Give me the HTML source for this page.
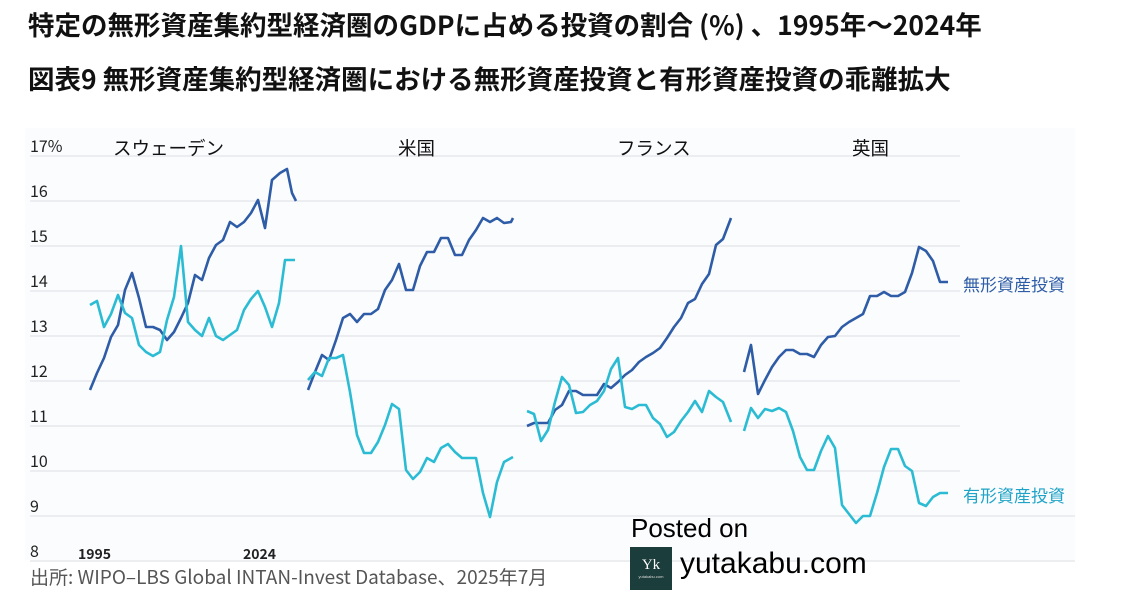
<!DOCTYPE html>
<html><head><meta charset="utf-8"><style>
body{margin:0;width:1127px;height:608px;background:#fff;overflow:hidden;position:relative;font-family:"Liberation Sans","Noto Sans CJK JP",sans-serif}
.t{position:absolute;white-space:nowrap;line-height:1.2}
.h{font-family:"Noto Sans CJK JP",sans-serif;font-weight:bold;color:#111;font-size:26.5px}
</style></head><body>
<div class="t h" style="left:28px;top:8px;">特定の無形資産集約型経済圏のGDPに占める投資の割合 (%) 、1995年～2024年</div>
<div class="t h" style="left:28px;top:62px;">図表9 無形資産集約型経済圏における無形資産投資と有形資産投資の乖離拡大</div>
<svg width="1127" height="608" style="position:absolute;left:0;top:0">
<rect x="25" y="128" width="1050" height="432" fill="#fbfcfe"/>
<g stroke="#e2e4e8" stroke-width="1.3">
<line x1="30" x2="960" y1="156" y2="156"/><line x1="30" x2="960" y1="201" y2="201"/><line x1="30" x2="960" y1="246" y2="246"/><line x1="30" x2="960" y1="291" y2="291"/><line x1="30" x2="960" y1="336" y2="336"/><line x1="30" x2="960" y1="381" y2="381"/><line x1="30" x2="960" y1="426" y2="426"/><line x1="30" x2="960" y1="471" y2="471"/><line x1="30" x2="1075" y1="516" y2="516"/><line x1="30" x2="1075" y1="561" y2="561"/>
</g>
<g font-size="16" fill="#222" font-family="Noto Sans CJK JP, sans-serif">
<text x="30" y="152">17%</text><text x="30" y="197">16</text><text x="30" y="242">15</text><text x="30" y="287">14</text><text x="30" y="332">13</text><text x="30" y="377">12</text><text x="30" y="422">11</text><text x="30" y="467">10</text><text x="30" y="512">9</text><text x="30" y="557">8</text>
<text x="78" y="559" font-size="14" font-weight="bold">1995</text><text x="243" y="559" font-size="14" font-weight="bold">2024</text>
</g>
<g font-size="18.5" fill="#111" font-family="Noto Sans CJK JP, sans-serif">
<text x="113" y="155">スウェーデン</text><text x="398" y="155">米国</text><text x="617" y="155">フランス</text><text x="852" y="155">英国</text>
</g>
<g fill="none" stroke-width="2.6" stroke-linejoin="round">
<polyline stroke="#2e5ca6" points="90,390 97,373 104,358 111,337 118,325 125,290 132,273 139,298 146,327 153,327 160,330 167,340 174,332 181,318 188,303 195,275 202,280 209,258 216,245 223,240 230,222 237,227 244,222 251,213 258,200 265,228 272,180 280,173 287,169 292,193 296,201"/>
<polyline stroke="#2bbcd4" points="90,305 97,301 104,327 111,314 118,295 125,313 132,318 139,345 146,352 153,356 160,352 167,320 174,297 181,246 188,322 195,330 202,336 209,318 216,336 223,340 230,335 237,330 244,310 251,299 258,291 265,307 272,327 279,303 285,260 295,260"/>
<polyline stroke="#2e5ca6" points="308,390 315,372 322,355 329,360 336,340 343,318 350,314 357,322 364,314 371,314 378,309 385,290 392,280 399,264 406,290 413,290 420,266 427,252 434,252 441,238 448,238 455,255 462,255 469,240 476,230 483,218 490,222 497,218 504,223 511,222 513,218"/>
<polyline stroke="#2bbcd4" points="308,380 315,372 322,376 329,358 336,358 343,355 350,392 357,435 364,453 371,453 378,442 385,425 392,404 399,409 406,470 413,479 420,472 427,458 434,462 441,448 448,444 455,452 462,458 469,458 476,458 483,493 490,517 497,482 504,462 513,457"/>
<polyline stroke="#2e5ca6" points="527,426 534,423 541,423 548,423 555,410 562,405 569,391 576,391 583,395 590,395 597,395 604,384 611,388 618,382 625,375 632,370 639,362 646,357 653,353 660,348 667,338 674,327 681,318 688,303 695,299 702,284 709,274 716,245 723,239 731,218"/>
<polyline stroke="#2bbcd4" points="527,411 534,414 541,441 548,430 555,402 562,377 569,385 576,413 583,412 590,405 597,401 604,391 611,369 618,358 625,407 632,409 639,405 646,405 653,418 660,424 667,437 674,432 681,421 688,412 695,401 702,412 709,391 716,397 723,402 731,422"/>
<polyline stroke="#2e5ca6" points="744,372 751,345 758,394 765,380 772,367 779,357 786,350 793,350 800,354 807,354 814,357 821,345 828,337 835,336 842,327 849,322 856,318 863,314 870,296 877,296 884,292 891,296 898,296 905,292 912,273 919,247 926,251 933,261 940,282 948,282"/>
<polyline stroke="#2bbcd4" points="744,431 751,408 758,418 765,409 772,411 779,408 786,412 793,431 800,457 807,470 814,470 821,451 828,436 835,448 842,505 849,514 856,523 863,516 870,516 877,493 884,467 891,449 898,449 905,466 912,471 919,503 926,506 933,497 940,493 948,493"/>
</g>
<g font-size="17" font-family="Noto Sans CJK JP, sans-serif">
<text x="963" y="291" fill="#2e5ca6">無形資産投資</text>
<text x="963" y="502" fill="#1fa3c7">有形資産投資</text>
</g>
<rect x="630" y="547" width="42" height="43" fill="#1b3d3b"/>
<text x="651" y="569" font-size="15" fill="#fff" text-anchor="middle" font-family="Liberation Serif, serif">Yk</text>
<text x="651" y="578" font-size="4" fill="#ddd" text-anchor="middle">yutakabu.com</text>
</svg>
<div class="t" style="left:631px;top:513px;font-size:26px;color:#000">Posted on</div>
<div class="t" style="left:680px;top:546px;font-size:30px;color:#000">yutakabu.com</div>
<div class="t" style="left:30px;top:566px;font-size:19px;color:#555;font-family:'Noto Sans CJK JP',sans-serif">出所: WIPO–LBS Global INTAN-Invest Database、2025年7月</div>
</body></html>
